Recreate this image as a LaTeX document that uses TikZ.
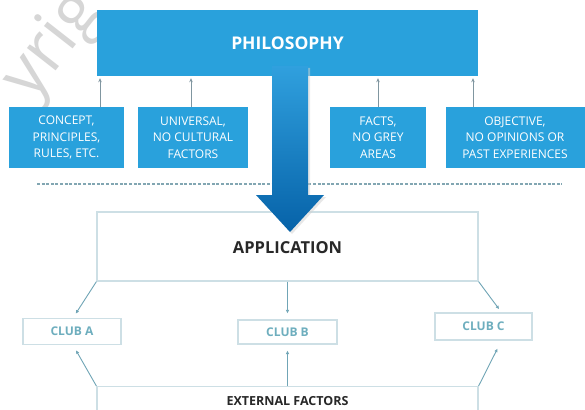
\documentclass[tikz,border=0pt]{standalone}
\usepackage{fontspec}
\setmainfont{Open Sans}
\usetikzlibrary{arrows.meta}

\definecolor{boxblue}{RGB}{41,161,220}
\definecolor{arrowtop}{RGB}{48,160,222}
\definecolor{arrowbot}{RGB}{6,98,168}
\definecolor{thinline}{RGB}{205,223,229}
\definecolor{clubtext}{RGB}{110,174,190}
\definecolor{clubline}{RGB}{112,165,182}
\definecolor{uparrow}{RGB}{128,150,160}
\definecolor{dashcol}{RGB}{130,166,178}
\definecolor{darktext}{RGB}{40,40,40}
\definecolor{markgray}{RGB}{214,214,214}

\tikzset{
  bluebox/.style={fill=boxblue, draw=none, text=white, align=center,
    inner sep=0pt, font=\fontsize{12}{16.5}\selectfont},
  outlinebox/.style={draw=thinline, line width=1.2pt, inner sep=0pt},
  clubbox/.style={outlinebox, text=clubtext,
    font=\fontsize{12}{14}\selectfont\bfseries},
  feedarrow/.style={draw=uparrow, line width=0.8pt, shorten >=2pt,
    -{Stealth[length=4pt,width=3.5pt]}},
  clubarrow/.style={draw=clubline, line width=0.9pt,
    -{Latex[length=3.5pt,width=3.5pt]}},
}

\begin{document}
\begin{tikzpicture}[x=1pt, y=-1pt]
\useasboundingbox (0,0) rectangle (585,409);
\fill[white] (0,0) rectangle (585,409);

% faint background mark
\node[rotate=52, text=markgray, font=\fontsize{68}{68}\selectfont, anchor=west,
  inner sep=0pt] at (18,92) {yrig};

% top level
\node[bluebox, minimum width=381, minimum height=66,
  font=\fontsize{17.5}{20}\selectfont\bfseries] (phil) at (287.5,43) {PHILOSOPHY};

% supporting attributes
\node[bluebox, minimum width=115, minimum height=61] (b1) at (66.5,137.5)
  {CONCEPT,\\PRINCIPLES,\\RULES, ETC.};
\node[bluebox, minimum width=110, minimum height=61] (b2) at (193,137.5)
  {UNIVERSAL,\\NO CULTURAL\\FACTORS};
\node[bluebox, minimum width=96, minimum height=61] (b3) at (378,137.5)
  {FACTS,\\NO GREY\\AREAS};
\node[bluebox, minimum width=139, minimum height=61] (b4) at (515,137.5)
  {OBJECTIVE,\\NO OPINIONS OR\\PAST EXPERIENCES};

\draw[feedarrow] ([xshift=33.5]b1.north) -- ([xshift=33.5]b1.north |- phil.south);
\draw[feedarrow] ([xshift=-2]b2.north) -- ([xshift=-2]b2.north |- phil.south);
\draw[feedarrow] (b3.north) -- (b3.north |- phil.south);
\draw[feedarrow] ([xshift=-42]b4.north) -- ([xshift=-42]b4.north |- phil.south);

% separator
\coordinate (sepL) at (37,184);
\coordinate (sepR) at (562,184);
\draw[dashcol, line width=2.2pt, dash pattern=on 3pt off 1.6pt] (sepL) -- (sepR);

% application level
\node[outlinebox, minimum width=381, minimum height=69] (app) at (287.5,246.5) {};
\node[text=darktext, font=\fontsize{16.5}{19}\selectfont\bfseries]
  (appt) at (287.5,248) {APPLICATION};

% large descending arrow
\fill[black!18, opacity=0.5] (274,68) -- (310,68) -- (310,197) -- (326,197)
  -- (292,234) -- (258,197) -- (274,197) -- cycle;
\shade[top color=arrowtop, bottom color=arrowbot]
  (272,66) -- (308,66) -- (308,195) -- (324,195) -- (290,232)
  -- (256,195) -- (272,195) -- cycle;

% clubs
\node[clubbox, minimum width=98, minimum height=26] (cA) at (72,331.5) {CLUB A};
\node[clubbox, minimum width=99, minimum height=24] (cB) at (287.5,332) {CLUB B};
\node[clubbox, minimum width=97, minimum height=27] (cC) at (483.5,326.5) {CLUB C};

% external factors
\node[outlinebox, minimum width=381, minimum height=50, anchor=north] (ef)
  at (287.5,386) {};
\node[text=darktext, font=\fontsize{12.5}{14}\selectfont\bfseries]
  (eft) at (287.5,401) {EXTERNAL FACTORS};

\draw[clubarrow, shorten >=5pt] (app.south west) -- ([xshift=1]cA.north);
\draw[clubarrow, shorten >=6pt] (app.south) -- (cB.north);
\draw[clubarrow, shorten >=4pt] (app.south east) -- ([xshift=18]cC.north);

\draw[clubarrow, shorten >=6pt] (ef.north west) -- ([xshift=1]cA.south);
\draw[clubarrow, shorten >=6pt] (ef.north) -- (cB.south);
\draw[clubarrow, shorten >=9pt] (ef.north east) -- ([xshift=18]cC.south);
\end{tikzpicture}
\end{document}
